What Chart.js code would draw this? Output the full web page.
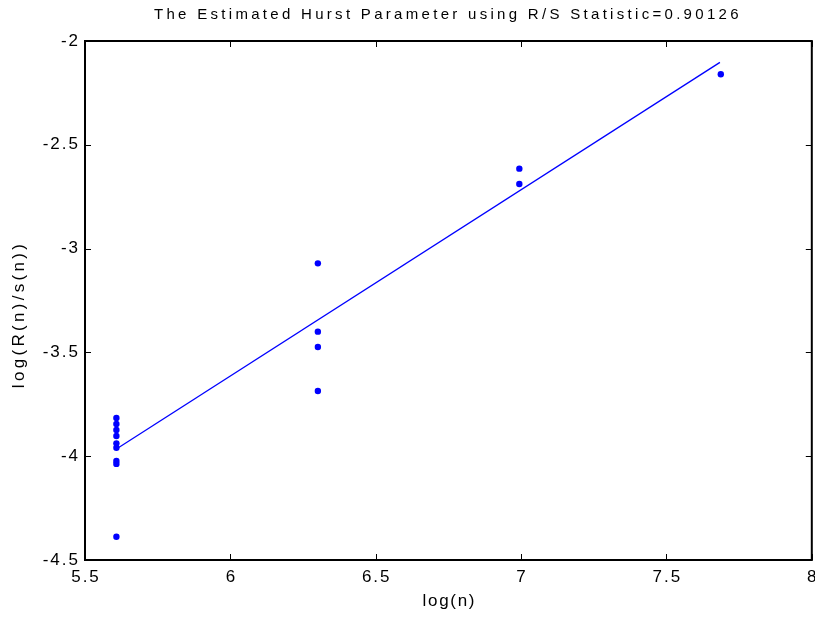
<!DOCTYPE html>
<html>
<head>
<meta charset="utf-8">
<script src="https://cdn.jsdelivr.net/npm/chart.js@4.4.1/dist/chart.umd.min.js"></script>
<style>
  html, body { margin: 0; padding: 0; background: #fff; }
  #wrap { width: 815px; height: 618px; }
</style>
</head>
<body>
<div id="wrap"><canvas id="c" width="815" height="618"></canvas></div>
<script>
const chartTitle = 'The Estimated Hurst Parameter using R/S Statistic=0.90126';
const xAxisLabel = 'log(n)';
const yAxisLabel = 'log(R(n)/s(n))';

// log(n) values of the R/S points
const logN = [5.608, 5.608, 5.608, 5.608, 5.608, 5.608, 5.608, 5.608, 5.608,
              6.301, 6.301, 6.301, 6.301,
              6.994, 6.994,
              7.687];
// log(R(n)/s(n)) values
const logRS = [-3.816, -3.845, -3.874, -3.903, -3.938, -3.959, -4.023, -4.037, -4.388,
               -3.071, -3.400, -3.474, -3.686,
               -2.615, -2.689,
               -2.160];
// fitted line endpoints
const fitX = [5.608, 7.684];
const fitY = [-3.965, -2.103];

const xTicks = [5.5, 6, 6.5, 7, 7.5, 8];
const yTicks = [-2, -2.5, -3, -3.5, -4, -4.5];

const FONT = 'Liberation Sans, Arial, Helvetica, sans-serif';

function wrap(obj, name, spacing, dx, dy) {
  const orig = obj[name];
  obj[name] = function () {
    const ctx = this.ctx;
    ctx.save();
    ctx.letterSpacing = spacing;
    ctx.translate(dx, dy);
    const r = orig.apply(this, arguments);
    ctx.restore();
    return r;
  };
}

const boxPlugin = {
  id: 'boxPlugin',
  beforeDraw(chart) {
    if (!chart.$wrapped) {
      chart.$wrapped = true;
      const a = chart.chartArea;
      const titleShift = (a.left + a.right) / 2 - chart.width / 2 + 1;
      wrap(chart.titleBlock, 'draw', '3.3px', titleShift, 0);
      wrap(chart.scales.y, 'drawTitle', '3.3px', 0, 14);
      wrap(chart.scales.y, 'drawLabels', '2px', 1, 0);
      wrap(chart.scales.x, 'drawTitle', '1.7px', 1, 0);
      wrap(chart.scales.x, 'drawLabels', '2px', 1, 0);
    }
  },
  afterDatasetsDraw(chart) {
    const ctx = chart.ctx;
    const a = chart.chartArea;
    const xs = chart.scales.x, ys = chart.scales.y;
    const tl = 6;
    ctx.save();
    ctx.strokeStyle = '#000';
    ctx.lineWidth = 1;
    ctx.beginPath();
    xTicks.forEach(v => {
      const px = Math.round(xs.getPixelForValue(v)) + 0.5;
      ctx.moveTo(px, a.bottom); ctx.lineTo(px, a.bottom - tl);
      ctx.moveTo(px, a.top); ctx.lineTo(px, a.top + tl);
    });
    yTicks.forEach(v => {
      const py = Math.round(ys.getPixelForValue(v)) + 0.5;
      ctx.moveTo(a.left, py); ctx.lineTo(a.left + tl, py);
      ctx.moveTo(a.right, py); ctx.lineTo(a.right - tl, py);
    });
    ctx.stroke();
    ctx.lineWidth = 2;
    ctx.strokeRect(a.left, a.top, a.right - a.left, a.bottom - a.top);
    ctx.restore();
  }
};

const points = logN.map((x, i) => ({ x: x, y: logRS[i] }));
const fitLine = fitX.map((x, i) => ({ x: x, y: fitY[i] }));

new Chart(document.getElementById('c'), {
  type: 'scatter',
  data: {
    datasets: [
      {
        data: points,
        backgroundColor: '#0000ff',
        borderColor: '#0000ff',
        borderWidth: 0,
        pointRadius: 3.2,
        pointHoverRadius: 3.2,
        showLine: false,
        order: 1
      },
      {
        data: fitLine,
        type: 'line',
        borderColor: '#0000ff',
        borderWidth: 1.3,
        pointRadius: 0,
        fill: false,
        order: 2
      }
    ]
  },
  plugins: [boxPlugin],
  options: {
    responsive: false,
    animation: false,
    events: [],
    layout: { padding: { left: 0, right: 3, top: 0, bottom: 0 } },
    plugins: {
      legend: { display: false },
      tooltip: { enabled: false },
      title: {
        display: true,
        text: chartTitle,
        color: '#000',
        font: { family: FONT, size: 15, weight: 'normal' },
        padding: { top: 6, bottom: 17 }
      }
    },
    scales: {
      x: {
        type: 'linear',
        min: 5.5, max: 8,
        afterFit(s) { s.height = 58; s.paddingLeft = 0; s.paddingRight = 0; },
        afterBuildTicks(s) { s.ticks = xTicks.map(v => ({ value: v })); },
        grid: { display: false, drawTicks: false },
        border: { display: false },
        ticks: {
          color: '#000',
          padding: 7,
          maxRotation: 0,
          autoSkip: false,
          font: { family: FONT, size: 17 },
          callback: v => String(v)
        },
        title: {
          display: true,
          text: xAxisLabel,
          color: '#000',
          font: { family: FONT, size: 17 },
          padding: { top: 2, bottom: 6 }
        }
      },
      y: {
        type: 'linear',
        min: -4.5, max: -2,
        afterFit(s) { s.width = 85; s.paddingTop = 0; s.paddingBottom = 0; },
        afterBuildTicks(s) { s.ticks = yTicks.map(v => ({ value: v })); },
        grid: { display: false, drawTicks: false },
        border: { display: false },
        ticks: {
          color: '#000',
          padding: 6,
          autoSkip: false,
          font: { family: FONT, size: 17 },
          callback: v => String(v)
        },
        title: {
          display: true,
          text: yAxisLabel,
          color: '#000',
          font: { family: FONT, size: 17 },
          padding: { top: 9, bottom: 0 }
        }
      }
    }
  }
});
</script>
</body>
</html>
